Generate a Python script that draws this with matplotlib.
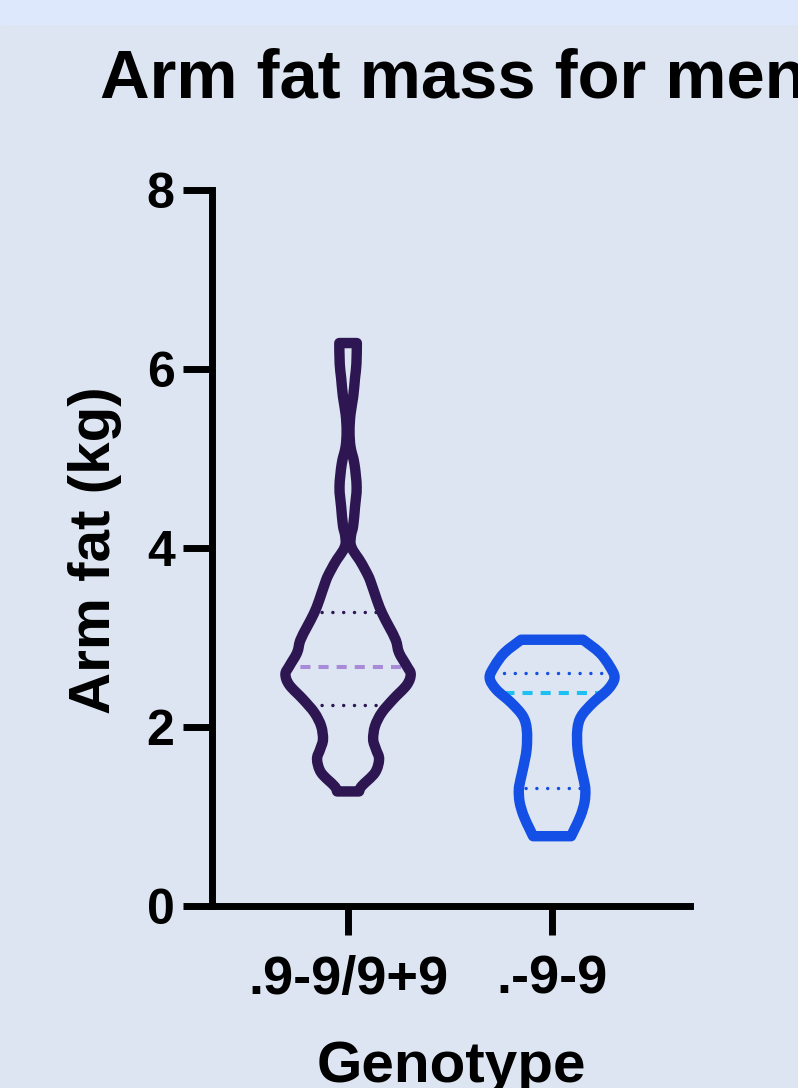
import matplotlib

matplotlib.use("Agg")
import matplotlib.pyplot as plt
import numpy as np
from matplotlib.patches import PathPatch, Rectangle
from matplotlib.path import Path

plt.rcParams["font.family"] = ["Liberation Sans", "DejaVu Sans"]
plt.rcParams["font.weight"] = "bold"

# ---------------------------------------------------------------- data
groups = [".9-9/9+9", ".-9-9"]
outline_colors = ["#2d1651", "#1450e6"]
median_colors = ["#a88bd8", "#1cc0f4"]

# violin outline: arm fat (kg) and half-width (category units)
g1_kg = [1.28, 1.34, 1.49, 1.64, 1.75, 1.86, 2.01, 2.16, 2.31, 2.47, 2.59, 2.68,
         2.83, 2.97, 3.12, 3.27, 3.42, 3.64, 3.75, 3.87, 3.97, 4.05, 4.15, 4.25,
         4.46, 4.68, 4.94, 5.13, 5.31, 5.50, 5.69, 5.90, 6.06, 6.29]
g1_half = [0.054, 0.067, 0.132, 0.152, 0.137, 0.123, 0.132, 0.165, 0.221, 0.288,
           0.307, 0.288, 0.250, 0.234, 0.201, 0.167, 0.141, 0.108, 0.085, 0.055,
           0.025, 0.012, 0.015, 0.025, 0.034, 0.042, 0.031, 0.012, 0.007, 0.012,
           0.025, 0.034, 0.041, 0.043]
g2_kg = [0.78, 0.86, 1.01, 1.16, 1.30, 1.42, 1.53, 1.75, 1.97, 2.12, 2.27, 2.42,
         2.55, 2.68, 2.83, 2.975]
g2_half = [0.093, 0.110, 0.140, 0.159, 0.163, 0.154, 0.143, 0.125, 0.124, 0.143,
           0.200, 0.274, 0.306, 0.282, 0.233, 0.152]

medians = [2.67, 2.38]
q1 = [2.25, 1.32]
q3 = [3.28, 2.60]

yticks = [0, 2, 4, 6, 8]


# ---------------------------------------------------------------- helpers
def smooth_segments(pts):
    """Catmull-Rom through pts, returned as cubic bezier vertices (no start point)."""
    pts = np.asarray(pts, dtype=float)
    ext = np.vstack([pts[0], pts, pts[-1]])
    verts = []
    for k in range(1, len(ext) - 2):
        p0, p1, p2, p3 = ext[k - 1], ext[k], ext[k + 1], ext[k + 2]
        verts += [p1 + (p2 - p0) / 6, p2 - (p3 - p1) / 6, p2]
    return verts


def violin_path(center, kg, half):
    kg, half = np.asarray(kg), np.asarray(half)
    right = np.column_stack([center + half, kg])
    left = np.column_stack([center - half, kg])[::-1]
    verts = [right[0]] + smooth_segments(right)
    codes = [Path.MOVETO] + [Path.CURVE4] * (len(verts) - 1)
    verts += [left[0]]
    codes += [Path.LINETO]
    seg = smooth_segments(left)
    verts += seg
    codes += [Path.CURVE4] * len(seg)
    verts += [right[0]]
    codes += [Path.CLOSEPOLY]
    return Path(np.array(verts), codes)


# ---------------------------------------------------------------- figure
W, H = 798, 1088
fig = plt.figure(figsize=(W / 100, H / 100), dpi=100, facecolor="#dce5f1")
fig.patches.append(Rectangle((0, 1 - 24 / H), 1, 24 / H, transform=fig.transFigure,
                             color="#dde8fd", zorder=0))

y0, y8 = 906, 190
ax = fig.add_axes([212 / W, 1 - y0 / H, 478 / W, (y0 - y8) / H])
ax.set_facecolor("#dce5f1")

outlines = [(g1_kg, g1_half), (g2_kg, g2_half)]
for i, (kg, half) in enumerate(outlines):
    poly = PathPatch(violin_path(i, kg, half), facecolor="none",
                     edgecolor=outline_colors[i], lw=7.5, joinstyle="round", zorder=3)
    ax.add_patch(poly)

    med, = ax.plot([i - 0.5, i + 0.5], [medians[i]] * 2, color=median_colors[i],
                   lw=2.9, linestyle=(0, (2.5, 2.0)), zorder=2)
    med.set_clip_path(poly)
    for q in (q1[i], q3[i]):
        ln, = ax.plot([i - 0.5, i + 0.5], [q, q], color=outline_colors[i], lw=2.5,
                      linestyle=(0, (0.01, 3.1)), dash_capstyle="round", zorder=2)
        ln.set_clip_path(poly)

ax.set_xlim(-0.667, 1.676)
ax.set_ylim(0, 8)
ax.set_yticks(yticks, [str(t) for t in yticks])
ax.set_xticks(range(len(groups)), groups)
for s in ("top", "right"):
    ax.spines[s].set_visible(False)
for s in ("left", "bottom"):
    ax.spines[s].set_linewidth(5)
ax.tick_params(axis="both", direction="out", length=21, width=5, color="black")
ax.tick_params(axis="y", labelsize=36, pad=6)
ax.tick_params(axis="x", labelsize=39, pad=14)

fig.text(100 / W, 1 - 98 / H, "Arm fat mass for men", fontsize=49.5, fontweight="bold",
         ha="left", va="baseline")
fig.text(95 / W, 1 - 550 / H, "Arm fat (kg)", fontsize=42, fontweight="bold",
         rotation=90, ha="center", va="center")
fig.text(451 / W, 1 - 1040 / H, "Genotype", fontsize=42, fontweight="bold",
         ha="center", va="top")

fig.savefig("out.png", dpi=100, facecolor=fig.get_facecolor())
